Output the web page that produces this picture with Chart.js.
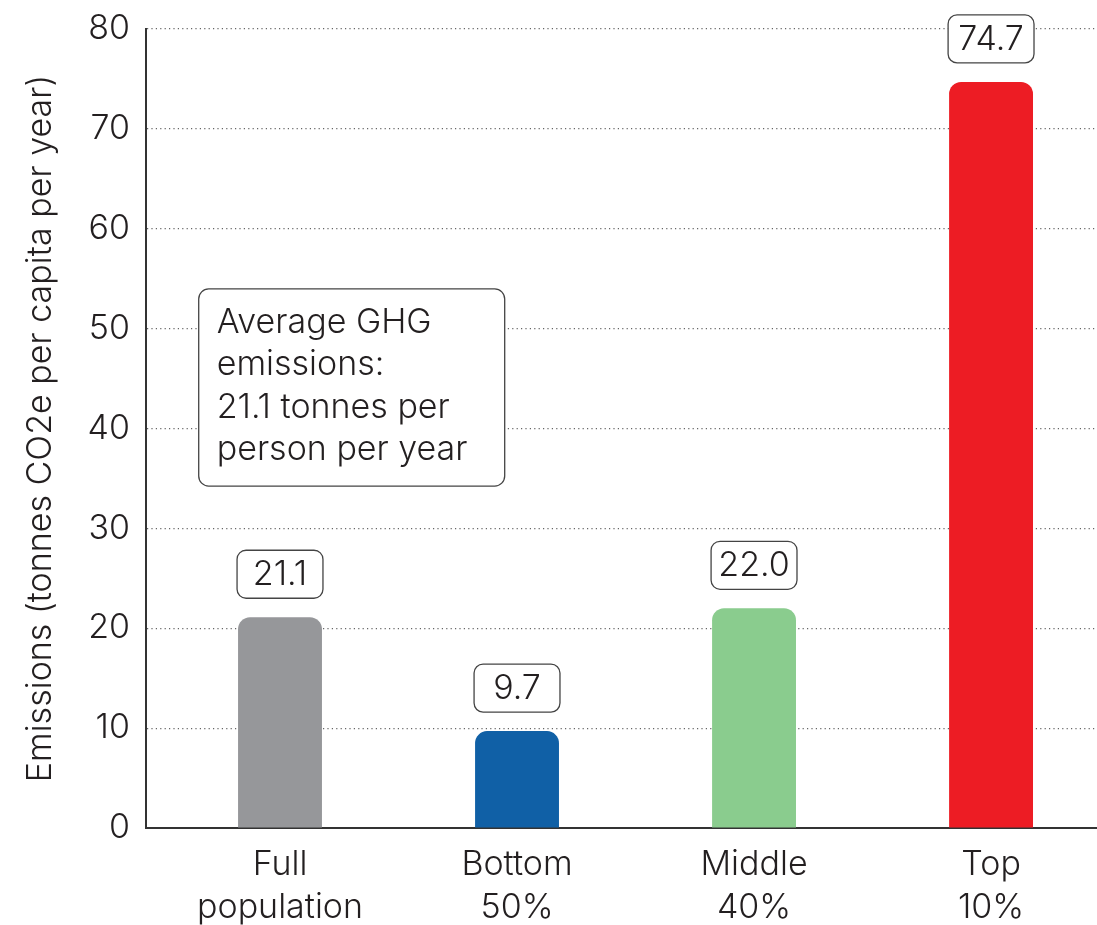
<!DOCTYPE html>
<html>
<head>
<meta charset="utf-8">
<script src="https://cdn.jsdelivr.net/npm/chart.js@4.4.1/dist/chart.umd.min.js"></script>
<style>
  html, body { margin: 0; padding: 0; background: #fff; }
  #wrap { width: 1097px; height: 925px; }
</style>
</head>
<body>
<div id="wrap"><canvas id="emissionsChart"></canvas></div>
<script>
// data
const categories = [["Full", "population"], ["Bottom", "50%"], ["Middle", "40%"], ["Top", "10%"]];
const emissions = [21.1, 9.7, 22.0, 74.7];
const barColors = ["#96979a", "#1060a6", "#8acc8e", "#ed1c24"];
const yTicks = [0, 10, 20, 30, 40, 50, 60, 70, 80];
const noteLines = ["Average GHG", "emissions:", "21.1 tonnes per", "person per year"];

const FONT = "Inter, sans-serif";
const TEXT = "#231f20";

function roundBox(ctx, x, y, w, h, r) {
    ctx.beginPath();
    ctx.moveTo(x + r, y);
    ctx.arcTo(x + w, y, x + w, y + h, r);
    ctx.arcTo(x + w, y + h, x, y + h, r);
    ctx.arcTo(x, y + h, x, y, r);
    ctx.arcTo(x, y, x + w, y, r);
    ctx.closePath();
    ctx.fillStyle = "#fff";
    ctx.fill();
    ctx.lineWidth = 1.3;
    ctx.strokeStyle = "#444";
    ctx.stroke();
}

// value boxes above bars + the note box
const boxesPlugin = {
    id: "boxes",
    afterDatasetsDraw(chart) {
        const ctx = chart.ctx;
        const x = chart.scales.x, y = chart.scales.y;
        ctx.save();
        ctx.font = "300 34px " + FONT;
        ctx.textAlign = "center";
        ctx.textBaseline = "middle";
        chart.getDatasetMeta(0).data.forEach(function (bar, i) {
            const w = bar.width + 2;
            const h = 48;
            const cy = bar.y - 43;
            roundBox(ctx, bar.x - w / 2, cy - h / 2, w, h, 9);
            ctx.fillStyle = TEXT;
            ctx.fillText(emissions[i].toFixed(1), bar.x, cy + 1);
        });

        // note box
        const left = x.getPixelForValue(-0.343);
        const right = x.getPixelForValue(0.948);
        const top = y.getPixelForValue(53.97);
        const bottom = y.getPixelForValue(34.24);
        roundBox(ctx, left, top, right - left, bottom - top, 10);
        ctx.textAlign = "left";
        ctx.fillStyle = TEXT;
        noteLines.forEach(function (line, i) {
            ctx.fillText(line, left + 18, top + 34 + i * 42.3);
        });
        ctx.restore();
    }
};

document.addEventListener("DOMContentLoaded", function () {
    const ctx = document.getElementById("emissionsChart").getContext("2d");

    new Chart(ctx, {
        type: 'bar',
        data: {
            datasets: [{
                data: emissions.map(function (v, i) { return { x: i, y: v }; }),
                backgroundColor: barColors,
                borderWidth: 0,
                borderSkipped: 'bottom',
                borderRadius: { topLeft: 12, topRight: 12, bottomLeft: 0, bottomRight: 0 },
                barPercentage: 0.354,
                categoryPercentage: 1
            }]
        },
        options: {
            responsive: true,
            maintainAspectRatio: false,
            animation: false,
            layout: { padding: { top: 29, right: 0, left: 0, bottom: 0 } },
            plugins: {
                legend: { display: false },
                tooltip: { enabled: false }
            },
            scales: {
                x: {
                    type: 'linear',
                    offset: false,
                    min: -0.5654,
                    max: 3.447,
                    grid: { display: false },
                    border: { display: true, color: '#333', width: 2 },
                    afterBuildTicks: function (scale) {
                        scale.ticks = categories.map(function (c, i) { return { value: i }; });
                    },
                    afterFit: function (scale) { scale.height = 97; },
                    ticks: {
                        autoSkip: false,
                        maxRotation: 0,
                        padding: 7,
                        color: TEXT,
                        font: { family: FONT, size: 34, weight: '300', lineHeight: 1.265 },
                        callback: function (v) { return categories[v]; }
                    }
                },
                y: {
                    min: 0,
                    max: 80,
                    afterBuildTicks: function (scale) {
                        scale.ticks = yTicks.map(function (v) { return { value: v }; });
                    },
                    afterFit: function (scale) { scale.width = 146; },
                    grid: {
                        drawTicks: false,
                        color: function (c) { return c.tick && c.tick.value === 0 ? 'rgba(0,0,0,0)' : '#666'; },
                        lineWidth: 1.2
                    },
                    border: { display: true, color: '#333', width: 2, dash: [1.2, 3.2] },
                    ticks: {
                        padding: 16,
                        color: TEXT,
                        font: { family: FONT, size: 34, weight: '300', lineHeight: 0.75 }
                    },
                    title: {
                        display: true,
                        text: 'Emissions (tonnes CO2e per capita per year)',
                        color: TEXT,
                        font: { family: FONT, size: 34, weight: '300' },
                        padding: { top: 20, bottom: 0 }
                    }
                }
            }
        },
        plugins: [boxesPlugin]
    });
});
</script>
</body>
</html>
